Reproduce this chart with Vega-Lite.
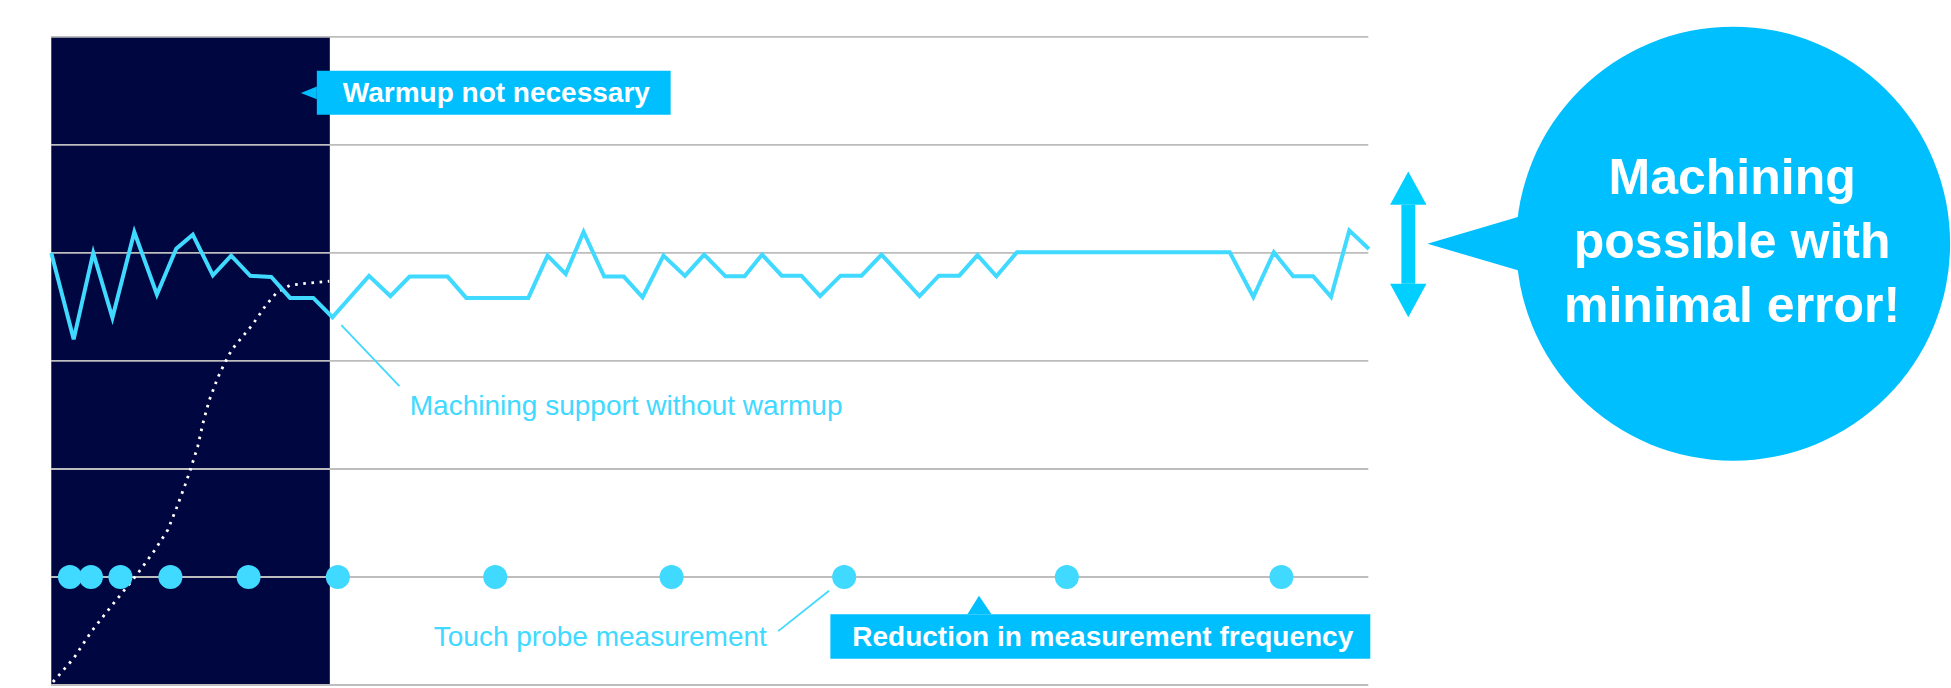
{"$schema":"https://vega.github.io/schema/vega-lite/v6.json","width":1951,"height":688,"autosize":{"type":"fit","contains":"padding"},"padding":0,"background":"white","config":{"view":{"stroke":null}},
"encoding":{"x":{"field":"t","type":"quantitative","scale":{"domain":[-5.1,190],"nice":false,"zero":false},"axis":null},"y":{"field":"v","type":"quantitative","scale":{"domain":[-0.185,63.42],"nice":false,"zero":false},"axis":null}},
"layer":[
{"data":{"values":[{"t":0.03,"t2":27.9,"v":0,"v2":60}]},"mark":{"type":"rect","color":"#000640"},"encoding":{"x2":{"field":"t2"},"y2":{"field":"v2"}}},
{"data":{"values":[{"t":0,"t2":131.8,"v":0},{"t":0,"t2":131.8,"v":10},{"t":0,"t2":131.8,"v":20},{"t":0,"t2":131.8,"v":30},{"t":0,"t2":131.8,"v":40},{"t":0,"t2":131.8,"v":50},{"t":0,"t2":131.8,"v":60}]},"mark":{"type":"rule","color":"#bdbdbd","strokeWidth":1.8},"encoding":{"x2":{"field":"t2"}}},
{"data":{"values":[{"t":0.2,"v":0.28},{"t":2.27,"v":2.47},{"t":4.05,"v":4.96},{"t":6.06,"v":7.33},{"t":8.5,"v":10.1},{"t":10.4,"v":12.51},{"t":11.69,"v":14.36},{"t":12.58,"v":16.43},{"t":13.43,"v":18.55},{"t":13.96,"v":19.97},{"t":14.68,"v":22.07},{"t":15.2,"v":24.22},{"t":15.84,"v":26.38},{"t":16.69,"v":28.45},{"t":17.36,"v":29.77},{"t":18.1,"v":31.06},{"t":20.17,"v":33.37},{"t":21.55,"v":35.22},{"t":22.58,"v":36.33},{"t":23.92,"v":37},{"t":25.48,"v":37.19},{"t":27.85,"v":37.38}]},"mark":{"type":"line","color":"white","strokeWidth":2.8,"strokeDash":[2.6,5.6]}},
{"data":{"values":[{"t":0.03,"v":40},{"t":2.27,"v":32},{"t":4.23,"v":40},{"t":6.15,"v":34},{"t":8.34,"v":41.94},{"t":10.6,"v":36.15},{"t":12.53,"v":40.4},{"t":14.19,"v":41.7},{"t":16.2,"v":37.93},{"t":18.03,"v":39.75},{"t":19.94,"v":37.88},{"t":22.04,"v":37.78},{"t":23.92,"v":35.84},{"t":26.24,"v":35.84},{"t":28.16,"v":34.05},{"t":31.82,"v":37.88},{"t":33.96,"v":36},{"t":35.88,"v":37.81},{"t":39.68,"v":37.81},{"t":41.55,"v":35.84},{"t":47.76,"v":35.84},{"t":49.68,"v":39.75},{"t":51.5,"v":38.06},{"t":53.29,"v":41.94},{"t":55.35,"v":37.81},{"t":57.31,"v":37.81},{"t":59.19,"v":35.9},{"t":61.28,"v":39.75},{"t":63.43,"v":37.88},{"t":65.35,"v":39.85},{"t":67.49,"v":37.84},{"t":69.4,"v":37.84},{"t":71.15,"v":39.85},{"t":73.11,"v":37.9},{"t":75.08,"v":37.9},{"t":76.95,"v":36},{"t":79,"v":37.9},{"t":81.1,"v":37.9},{"t":83.1,"v":39.85},{"t":86.9,"v":36},{"t":88.83,"v":37.9},{"t":90.88,"v":37.9},{"t":92.7,"v":39.8},{"t":94.59,"v":37.84},{"t":96.64,"v":40.06},{"t":117.94,"v":40.06},{"t":120.3,"v":35.93},{"t":122.35,"v":40.06},{"t":124.28,"v":37.84},{"t":126.28,"v":37.84},{"t":128.07,"v":35.93},{"t":129.9,"v":42.09},{"t":131.86,"v":40.37}]},"mark":{"type":"line","color":"#40d9ff","strokeWidth":4,"strokeJoin":"miter"}},
{"data":{"values":[{"t":1.9,"v":10},{"t":4,"v":10},{"t":6.95,"v":10},{"t":11.95,"v":10},{"t":19.77,"v":10},{"t":28.7,"v":10},{"t":44.45,"v":10},{"t":62.09,"v":10},{"t":79.36,"v":10},{"t":101.64,"v":10},{"t":123.1,"v":10}]},"mark":{"type":"point","filled":true,"shape":"circle","color":"#40d9ff","opacity":1,"size":576}},
{"data":{"values":[{"t":29.05,"t2":34.86,"v":33.31,"v2":27.67},{"t":77.85,"t2":72.76,"v":8.72,"v2":4.99}]},"mark":{"type":"rule","color":"#40d9ff","strokeWidth":1.8},"encoding":{"x2":{"field":"t2"},"y2":{"field":"v2"}}},
{"data":{"values":[{"t":26.6,"t2":62,"v":56.86,"v2":52.79},{"t":77.98,"t2":132,"v":6.54,"v2":2.43},{"t":135.11,"t2":136.49,"v":44.47,"v2":37.16}]},"mark":{"type":"rect","color":"#00bfff"},"encoding":{"x2":{"field":"t2"},"y2":{"field":"v2"},"color":{"condition":{"test":"datum.t > 130","value":"#00cfff"},"value":"#00bfff"}}},
{"data":{"values":[{"t":25,"v":54.82,"v2":54.82},{"t":26.6,"v":55.4,"v2":54.24}]},"mark":{"type":"area","color":"#00bfff"},"encoding":{"y2":{"field":"v2"}}},
{"data":{"values":[{"t":91.69,"v":6.54,"v2":6.54},{"t":92.85,"v":8.26,"v2":6.54},{"t":94.1,"v":6.54,"v2":6.54}]},"mark":{"type":"area","color":"#00bfff"},"encoding":{"y2":{"field":"v2"}}},
{"data":{"values":[{"t":133.98,"v":44.47,"v2":44.47},{"t":135.8,"v":47.55,"v2":44.47},{"t":137.62,"v":44.47,"v2":44.47}]},"mark":{"type":"area","color":"#00cfff"},"encoding":{"y2":{"field":"v2"}}},
{"data":{"values":[{"t":133.98,"v":37.16,"v2":37.16},{"t":135.8,"v":37.16,"v2":34.05},{"t":137.62,"v":37.16,"v2":37.16}]},"mark":{"type":"area","color":"#00cfff"},"encoding":{"y2":{"field":"v2"}}},
{"data":{"values":[{"t":137.72,"v":40.86,"v2":40.86},{"t":146.76,"v":43.33,"v2":38.39},{"t":148,"v":43.33,"v2":38.39}]},"mark":{"type":"area","color":"#00bfff"},"encoding":{"y2":{"field":"v2"}}},
{"data":{"values":[{"t":168.3,"v":40.86}]},"mark":{"type":"point","filled":true,"shape":"circle","color":"#00bfff","opacity":1,"size":188356}},
{"data":{"values":[{"t":29.2,"v":53.96,"label":"Warmup not necessary"},{"t":80.17,"v":3.63,"label":"Reduction in measurement frequency"}]},"mark":{"type":"text","align":"left","baseline":"alphabetic","font":"Liberation Sans","fontWeight":"bold","fontSize":28,"color":"white"},"encoding":{"text":{"field":"label"}}},
{"data":{"values":[{"t":35.9,"v":24.99,"label":"Machining support without warmup"},{"t":38.3,"v":3.63,"label":"Touch probe measurement"}]},"mark":{"type":"text","align":"left","baseline":"alphabetic","font":"Liberation Sans","fontSize":28,"color":"#40d9ff"},"encoding":{"text":{"field":"label"}}},
{"data":{"values":[{"t":168.2,"v":45.46,"label":"Machining"},{"t":168.2,"v":39.54,"label":"possible with"},{"t":168.2,"v":33.59,"label":"minimal error!"}]},"mark":{"type":"text","align":"center","baseline":"alphabetic","font":"Liberation Sans","fontWeight":"bold","fontSize":50,"color":"white"},"encoding":{"text":{"field":"label"}}}
]}
